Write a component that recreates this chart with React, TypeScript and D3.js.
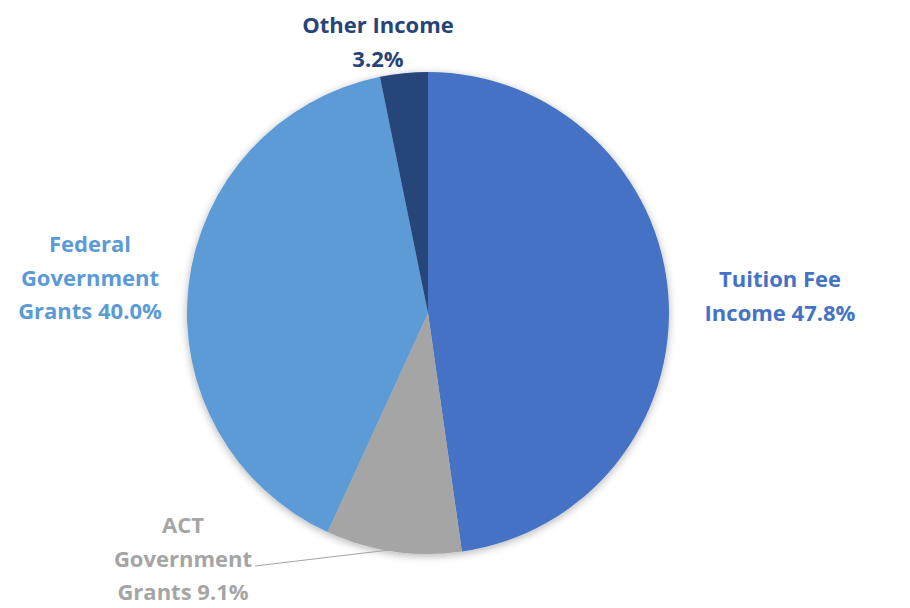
import React, { useRef, useEffect } from 'react';
import * as d3 from 'd3';

// Revenue share, clockwise from 12 o'clock
const categories = ['Tuition Fee Income', 'ACT Government Grants', 'Federal Government Grants', 'Other Income'];
const shares = [47.8, 9.1, 40.0, 3.2];
const colors = ['#4472C4', '#A5A5A5', '#5B9BD5', '#264478'];

// label text lines (last line gets the percentage appended)
const labelLines = [
    ['Tuition Fee', 'Income'],
    ['ACT', 'Government', 'Grants'],
    ['Federal', 'Government', 'Grants'],
    ['Other Income', ''],
];
// label centre x / first-line baseline y
const labelPos: [number, number][] = [
    [780, 287],
    [183, 533],
    [90, 252],
    [378, 33],
];

const W = 910;
const H = 608;
const cx = 428;
const cy = 313;
const R = 241;

const App: React.FC = () => {
    const svgRef = useRef<SVGSVGElement | null>(null);

    useEffect(() => {
        if (!svgRef.current) return;
        const svg = d3.select(svgRef.current);
        svg.selectAll('*').remove();

        const defs = svg.append('defs');
        const f = defs.append('filter').attr('id', 'shadow').attr('x', '-10%').attr('y', '-10%').attr('width', '120%').attr('height', '120%');
        f.append('feGaussianBlur').attr('in', 'SourceAlpha').attr('stdDeviation', 4);
        f.append('feOffset').attr('dx', 0).attr('dy', 2).attr('result', 'b');
        f.append('feComponentTransfer').append('feFuncA').attr('type', 'linear').attr('slope', 0.3);
        const m = f.append('feMerge');
        m.append('feMergeNode');
        m.append('feMergeNode').attr('in', 'SourceGraphic');

        const pie = d3.pie<number>().sort(null).value((d) => d);
        const arcs = pie(shares);
        const arc = d3.arc<d3.PieArcDatum<number>>().innerRadius(0).outerRadius(R);

        const g = svg.append('g').attr('transform', `translate(${cx},${cy})`);
        g.append('g')
            .attr('filter', 'url(#shadow)')
            .selectAll('path')
            .data(arcs)
            .enter()
            .append('path')
            .attr('d', arc)
            .attr('fill', (_, i) => colors[i]);

        // leader line for ACT slice
        const act = arcs[1];
        const mid = (act.startAngle + act.endAngle) / 2;
        const [px, py] = d3.pointRadial(mid, R);
        svg.append('line')
            .attr('x1', cx + px)
            .attr('y1', cy + py - 2)
            .attr('x2', 255)
            .attr('y2', 566)
            .attr('stroke', '#A5A5A5')
            .attr('stroke-width', 1.2);

        const labels = svg.append('g').attr('font-family', '"Open Sans", Lato, sans-serif').attr('font-weight', 700).attr('font-size', 22);
        categories.forEach((_, i) => {
            const lines = labelLines[i].slice();
            const last = lines.length - 1;
            lines[last] = (lines[last] ? lines[last] + ' ' : '') + shares[i].toFixed(1) + '%';
            const t = labels.append('text')
                .attr('text-anchor', 'middle')
                .attr('fill', colors[i]);
            lines.forEach((ln, j) => {
                t.append('tspan').attr('x', labelPos[i][0]).attr('y', labelPos[i][1] + j * 33.5).text(ln);
            });
        });
    }, []);

    return (
        <svg ref={svgRef} width={W} height={H} viewBox={`0 0 ${W} ${H}`}
            style={{ position: 'absolute', left: 0, top: 0, background: '#fff' }} />
    );
};

export default App;
